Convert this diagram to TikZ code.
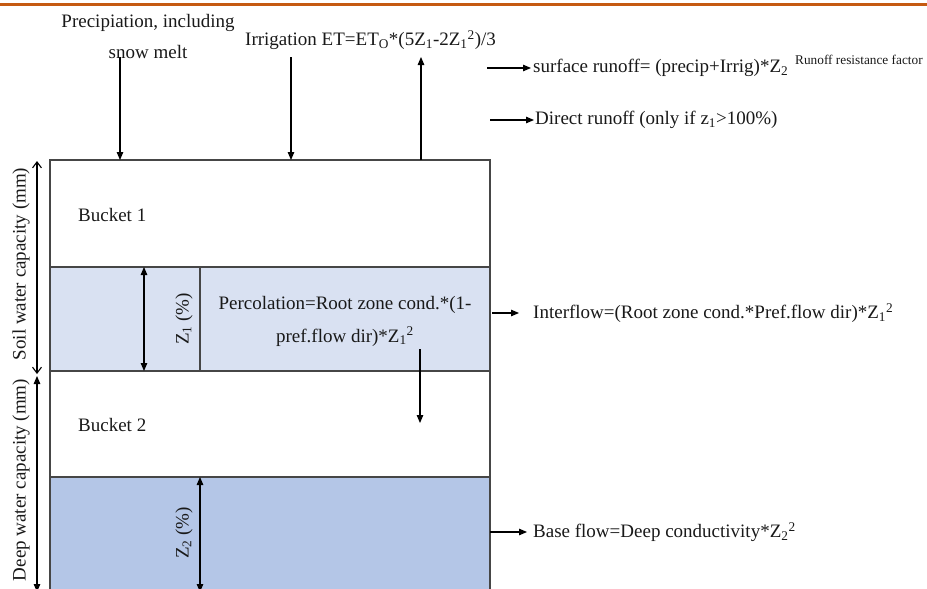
\documentclass[tikz,border=0pt]{standalone}
\usepackage{fontspec}
\setmainfont{Liberation Serif}
\usetikzlibrary{arrows.meta}
\definecolor{orangebar}{RGB}{197,90,17}
\definecolor{lightfill}{RGB}{217,225,242}
\definecolor{darkfill}{RGB}{180,198,231}
\definecolor{boxline}{RGB}{70,70,70}
\definecolor{txt}{RGB}{25,25,25}
\tikzset{
  boxedge/.style={draw=boxline, line width=1.3pt},
  flow/.style={draw=black, line width=1.1pt, -{Triangle[length=8pt,width=6.5pt]}},
  dflow/.style={draw=black, line width=1.1pt, {Triangle[length=8pt,width=6.5pt]}-{Triangle[length=8pt,width=6.5pt]}},
  oflow/.style={draw=black, line width=1.1pt, {Straight Barb[length=6pt,width=9pt]}-{Straight Barb[length=6pt,width=9pt]}},
  lab/.style={text=txt, inner sep=0pt, font=\fontsize{19}{23}\selectfont},
  smalllab/.style={text=txt, inner sep=0pt, font=\fontsize{13.3}{15}\selectfont},
}
\begin{document}
\begin{tikzpicture}[x=1pt,y=-1pt]
\useasboundingbox (0,0) rectangle (927,589);
\begin{scope}
\clip (0,0) rectangle (927,589);
% fills
\fill[lightfill] (50,267) rectangle (490,371);
\fill[darkfill] (50,477) rectangle (490,600);
% box edges
\draw[boxedge] (50,600) -- (50,160) -- (490,160) -- (490,600);
\draw[boxedge] (50,267) -- (490,267);
\draw[boxedge] (50,371) -- (490,371);
\draw[boxedge] (50,477) -- (490,477);
\draw[boxedge] (200,267) -- (200,371);
% top bar
\draw[orangebar, line width=3.2pt] (0,4.8) -- (927,4.8);
% coordinates
\coordinate (pA) at (120,57);  \coordinate (pB) at (120,160);
\coordinate (iA) at (291,57);  \coordinate (iB) at (291,160);
\coordinate (eA) at (421,160); \coordinate (eB) at (421,57);
\coordinate (sA) at (487,68);  \coordinate (sB) at (531,68);
\coordinate (dA) at (490,120); \coordinate (dB) at (534,120);
\coordinate (fA) at (492,313); \coordinate (fB) at (519,313);
\coordinate (cA) at (420,349); \coordinate (cB) at (420,423);
\coordinate (bA) at (490,532); \coordinate (bB) at (527,532);
\coordinate (z1A) at (144,267); \coordinate (z1B) at (144,371);
\coordinate (z2A) at (200,477); \coordinate (z2B) at (200,592);
\coordinate (swA) at (37,161); \coordinate (swB) at (37,374);
\coordinate (dwA) at (37,376); \coordinate (dwB) at (37,592);
% arrows
\draw[flow] (pA) -- (pB);
\draw[flow] (iA) -- (iB);
\draw[flow] (eA) -- (eB);
\draw[flow] (sA) -- (sB);
\draw[flow] (dA) -- (dB);
\draw[flow] (fA) -- (fB);
\draw[flow] (cA) -- (cB);
\draw[flow] (bA) -- (bB);
\draw[dflow] (z1A) -- (z1B);
\draw[dflow] (z2A) -- (z2B);
\draw[oflow] (swA) -- (swB);
\draw[dflow] (dwA) -- (dwB);
\end{scope}
% labels
\node[lab] (precip1) at (148,23) {Precipiation, including};
\node[lab] (precip2) at (148,52) {snow melt};
\node[lab, anchor=west] (irrig) at (245,40) {Irrigation ET=ET\textsubscript{O}*(5Z\textsubscript{1}-2Z\textsubscript{1}\textsuperscript{2})/3};
\node[lab, anchor=west] (surf) at (533,68) {surface runoff= (precip+Irrig)*Z\textsubscript{2}};
\node[smalllab, anchor=west] (surfsup) at (795,60) {Runoff resistance factor};
\node[lab, anchor=west] (direct) at (535,120) {Direct runoff (only if z\textsubscript{1}>100\%)};
\node[lab, anchor=west] (b1) at (78,215) {Bucket 1};
\node[lab, rotate=90] (z1lab) at (184,319) {Z\textsubscript{1} (\%)};
\node[lab, align=center, font=\fontsize{19}{33}\selectfont] (perc) at (345,321) {Percolation=Root zone cond.*(1-\\pref.flow dir)*Z\textsubscript{1}\textsuperscript{2}};
\node[lab, anchor=west] (inter) at (533,313) {Interflow=(Root zone cond.*Pref.flow dir)*Z\textsubscript{1}\textsuperscript{2}};
\node[lab, anchor=west] (b2) at (78,425) {Bucket 2};
\node[lab, rotate=90] (z2lab) at (184,533) {Z\textsubscript{2} (\%)};
\node[lab, anchor=west] (base) at (533,532) {Base flow=Deep conductivity*Z\textsubscript{2}\textsuperscript{2}};
\node[lab, rotate=90] (soil) at (21,264) {Soil water capacity (mm)};
\node[lab, rotate=90] (deep) at (21,480) {Deep water capacity (mm)};
\end{tikzpicture}
\end{document}
